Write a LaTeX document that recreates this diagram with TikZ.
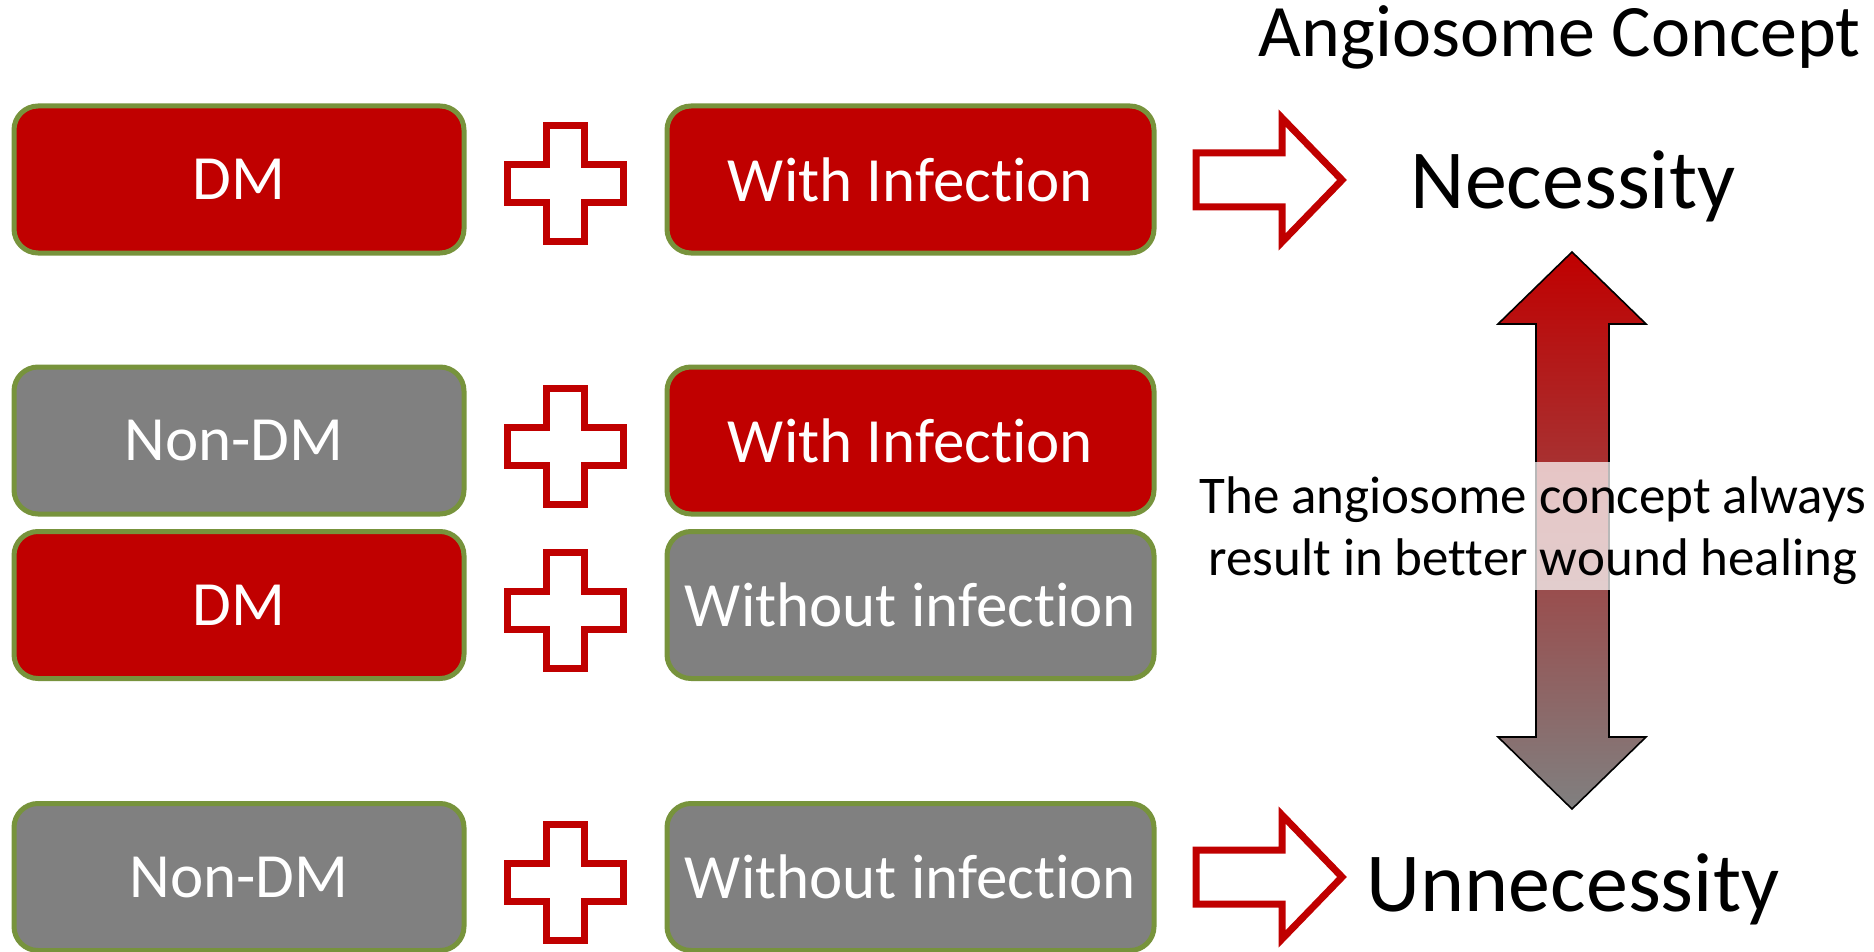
\documentclass[tikz,border=0pt]{standalone}
\usepackage{fontspec}
\setmainfont[Ligatures={NoCommon}]{Carlito}
\definecolor{dmred}{HTML}{C00000}
\definecolor{boxgray}{HTML}{808080}
\definecolor{boxolive}{HTML}{77933C}
\begin{document}
\begin{tikzpicture}[x=1pt,y=-1pt,
  box/.style={rectangle, rounded corners=24pt, draw=boxolive, line width=5pt,
    inner sep=0pt, text=white, font=\fontsize{63}{75}\selectfont},
  lbox/.style={box, minimum width=450pt, minimum height=147pt},
  rbox/.style={box, minimum width=487pt, minimum height=147pt},
  redfill/.style={fill=dmred},
  grayfill/.style={fill=boxgray},
  plusline/.style={draw=dmred, fill=white, line width=7pt, line join=miter},
  blockarrow/.style={draw=dmred, fill=white, line width=7pt, line join=miter},
  bigtext/.style={inner sep=0pt, font=\fontsize{84}{100}\selectfont},
  plussign/.pic={\path[plusline] (-19,-58) -- (19,-58) -- (19,-19) -- (58,-19) -- (58,19) -- (19,19) -- (19,58) -- (-19,58) -- (-19,19) -- (-58,19) -- (-58,-19) -- (-19,-19) -- cycle;},
  rarrow/.pic={\path[blockarrow] (-73,-27) -- (13,-27) -- (13,-62) -- (73,0) -- (13,62) -- (13,27) -- (-73,27) -- cycle;}
]
\useasboundingbox (0,0) rectangle (1874,952);

% row 1
\node[lbox, redfill] (dm1) at (239,179.5) {DM};
\node[rbox, redfill] (wi1) at (910.5,179.5) {With Infection};
% row 2
\node[lbox, grayfill] (ndm2) at (239,440.5) {\hspace*{-10pt}Non-DM};
\node[rbox, redfill] (wi2) at (910.5,440.5) {With Infection};
% row 3
\node[lbox, redfill] (dm3) at (239,605) {DM};
\node[rbox, grayfill] (wo3) at (910.5,605) {Without infection};
% row 4
\node[lbox, grayfill] (ndm4) at (239,877) {Non-DM};
\node[rbox, grayfill] (wo4) at (910.5,877) {Without infection};

% plus signs
\pic at (565,184) {plussign};
\pic at (565,446) {plussign};
\pic at (565,610) {plussign};
\pic at (565,882) {plussign};

% block arrows
\pic at (1269,180) {rarrow};
\pic at (1269,877) {rarrow};

% texts
\node[inner sep=0pt, anchor=base east, font=\fontsize{74}{89}\selectfont] (title) at (1861,57) {Angiosome Concept};
\node[bigtext, anchor=base] (nec) at (1573,209) {Necessity};
\node[bigtext, anchor=base] (unnec) at (1573,911) {Unnecessity};

% double arrow
\path[draw=black, line width=1.6pt, top color=dmred, bottom color=boxgray]
  (1572,252) -- (1646,324) -- (1609,324) -- (1609,737) -- (1646,737) -- (1572,809)
  -- (1498,737) -- (1536,737) -- (1536,324) -- (1498,324) -- cycle;
\fill[white, opacity=0.72] (1530,462) rectangle (1615,590);
\node[inner sep=0pt, align=center, font=\fontsize{53}{62}\selectfont] (mid) at (1533,531)
  {The angiosome concept always\\result in better wound healing};
\end{tikzpicture}
\end{document}
